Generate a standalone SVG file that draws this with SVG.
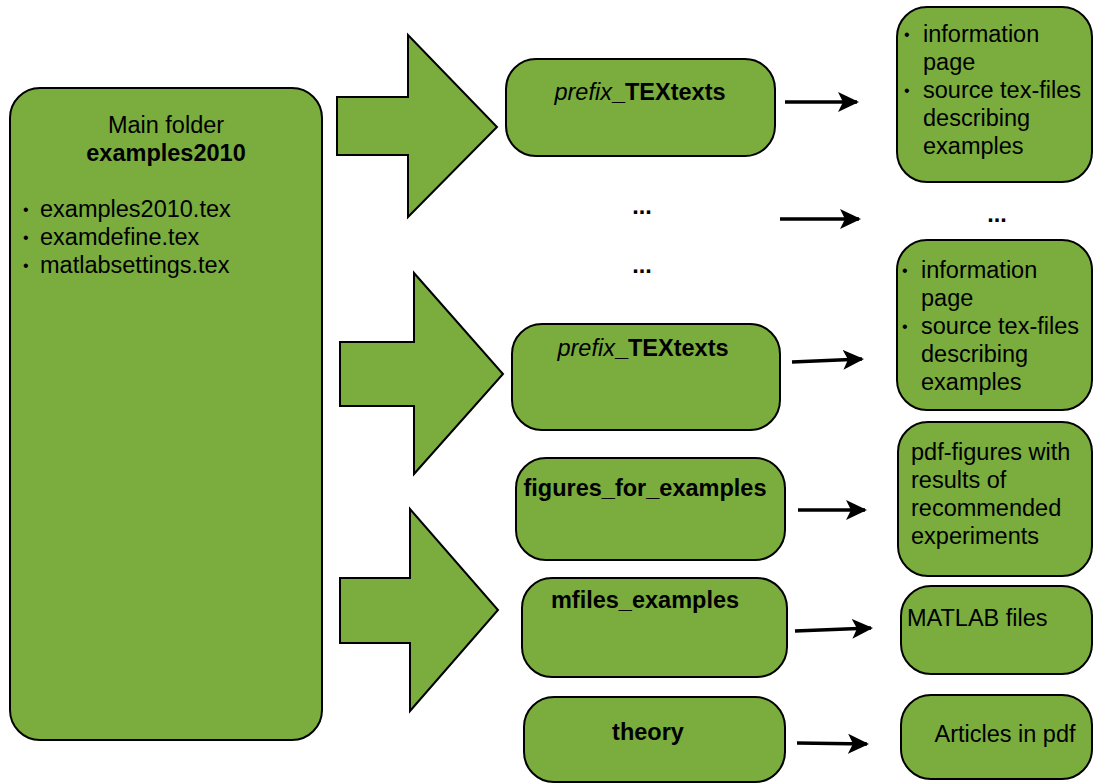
<svg xmlns="http://www.w3.org/2000/svg" width="1093" height="783" viewBox="0 0 1093 783">
<defs>
<style>
.box{fill:#7aad3d;stroke:#000;stroke-width:2}
.t{font-family:"Liberation Sans",Arial,sans-serif;font-size:23.5px;fill:#000}
.bu{font-family:"Liberation Sans",Arial,sans-serif;font-size:16px;fill:#000}
.b{font-weight:bold}
.m{text-anchor:middle}
.c{fill:none;stroke:#000;stroke-width:3.5}
</style>
<marker id="ah" markerUnits="userSpaceOnUse" markerWidth="22" markerHeight="22" refX="19" refY="10" orient="auto" viewBox="0 0 22 22">
<path d="M0,0 L21,10 L0,20 L5,10 Z" fill="#000"/>
</marker>
</defs>
<rect width="1093" height="783" fill="#fff"/>

<g id="main">
<rect class="box" x="10" y="88" width="312" height="652" rx="30"/>
<text class="t m" x="166" y="133">Main folder</text>
<text class="t m b" x="166" y="161">examples2010</text>
<text class="bu" x="23" y="215">•</text><text class="t" x="40" y="217">examples2010.tex</text>
<text class="bu" x="23" y="243">•</text><text class="t" x="40" y="245">examdefine.tex</text>
<text class="bu" x="23" y="271">•</text><text class="t" x="40" y="273">matlabsettings.tex</text>
</g>

<g id="bigarrow1">
<polygon class="box" points="337,97 408,97 408,35 497,127 408,217 408,155 337,155"/>
</g>
<g id="bigarrow2">
<polygon class="box" points="340,342 414,342 414,273 503,374 414,474 414,406 340,406"/>
</g>
<g id="bigarrow3">
<polygon class="box" points="340,578 410,578 410,509 498,610 410,711 410,643 340,643"/>
</g>

<g id="tex1">
<rect class="box" x="506" y="59" width="269" height="97" rx="30"/>
<text class="t m" x="640" y="100"><tspan font-style="italic">prefix</tspan><tspan class="b">_TEXtexts</tspan></text>
</g>
<g id="dots1"><text class="t m b" x="642" y="214">...</text></g>
<g id="dots2"><text class="t m b" x="642" y="273">...</text></g>
<g id="tex2">
<rect class="box" x="512" y="324" width="268" height="106" rx="30"/>
<text class="t m" x="643" y="356"><tspan font-style="italic">prefix</tspan><tspan class="b">_TEXtexts</tspan></text>
</g>
<g id="figures">
<rect class="box" x="516" y="458" width="269" height="102" rx="30"/>
<text class="t m b" x="645" y="496">figures_for_examples</text>
</g>
<g id="mfiles">
<rect class="box" x="522" y="578" width="265" height="99" rx="30"/>
<text class="t m b" x="645" y="608">mfiles_examples</text>
</g>
<g id="theory">
<rect class="box" x="524" y="697" width="261" height="85" rx="30"/>
<text class="t m b" x="648" y="740">theory</text>
</g>

<g id="info1">
<rect class="box" x="897" y="7" width="195" height="175" rx="30"/>
<text class="bu" x="904" y="40">•</text><text class="t" x="923" y="42">information</text>
<text class="t" x="923" y="70">page</text>
<text class="bu" x="904" y="96">•</text><text class="t" x="923" y="98">source tex-files</text>
<text class="t" x="923" y="126">describing</text>
<text class="t" x="923" y="154">examples</text>
</g>
<g id="dots3"><text class="t m b" x="997" y="222">...</text></g>
<g id="info2">
<rect class="box" x="897" y="240" width="195" height="170" rx="30"/>
<text class="bu" x="902" y="276">•</text><text class="t" x="921" y="278">information</text>
<text class="t" x="921" y="306">page</text>
<text class="bu" x="902" y="332">•</text><text class="t" x="921" y="334">source tex-files</text>
<text class="t" x="921" y="362">describing</text>
<text class="t" x="921" y="390">examples</text>
</g>
<g id="pdffig">
<rect class="box" x="898" y="422" width="194" height="154" rx="30"/>
<text class="t" x="911" y="460">pdf-figures with</text>
<text class="t" x="911" y="488">results of</text>
<text class="t" x="911" y="516">recommended</text>
<text class="t" x="911" y="544">experiments</text>
</g>
<g id="matlab">
<rect class="box" x="901" y="586" width="191" height="88" rx="30"/>
<text class="t" x="907" y="626">MATLAB files</text>
</g>
<g id="articles">
<rect class="box" x="901" y="695" width="191" height="84" rx="30"/>
<text class="t m" x="1005" y="742">Articles in pdf</text>
</g>

<g id="connectors">
<line class="c" x1="785" y1="102" x2="857" y2="102" marker-end="url(#ah)"/>
<line class="c" x1="780" y1="219" x2="859" y2="219" marker-end="url(#ah)"/>
<line class="c" x1="792" y1="362" x2="862" y2="359" marker-end="url(#ah)"/>
<line class="c" x1="798" y1="510" x2="865" y2="510" marker-end="url(#ah)"/>
<line class="c" x1="795" y1="631" x2="871" y2="628" marker-end="url(#ah)"/>
<line class="c" x1="797" y1="743" x2="867" y2="744" marker-end="url(#ah)"/>
</g>
</svg>
